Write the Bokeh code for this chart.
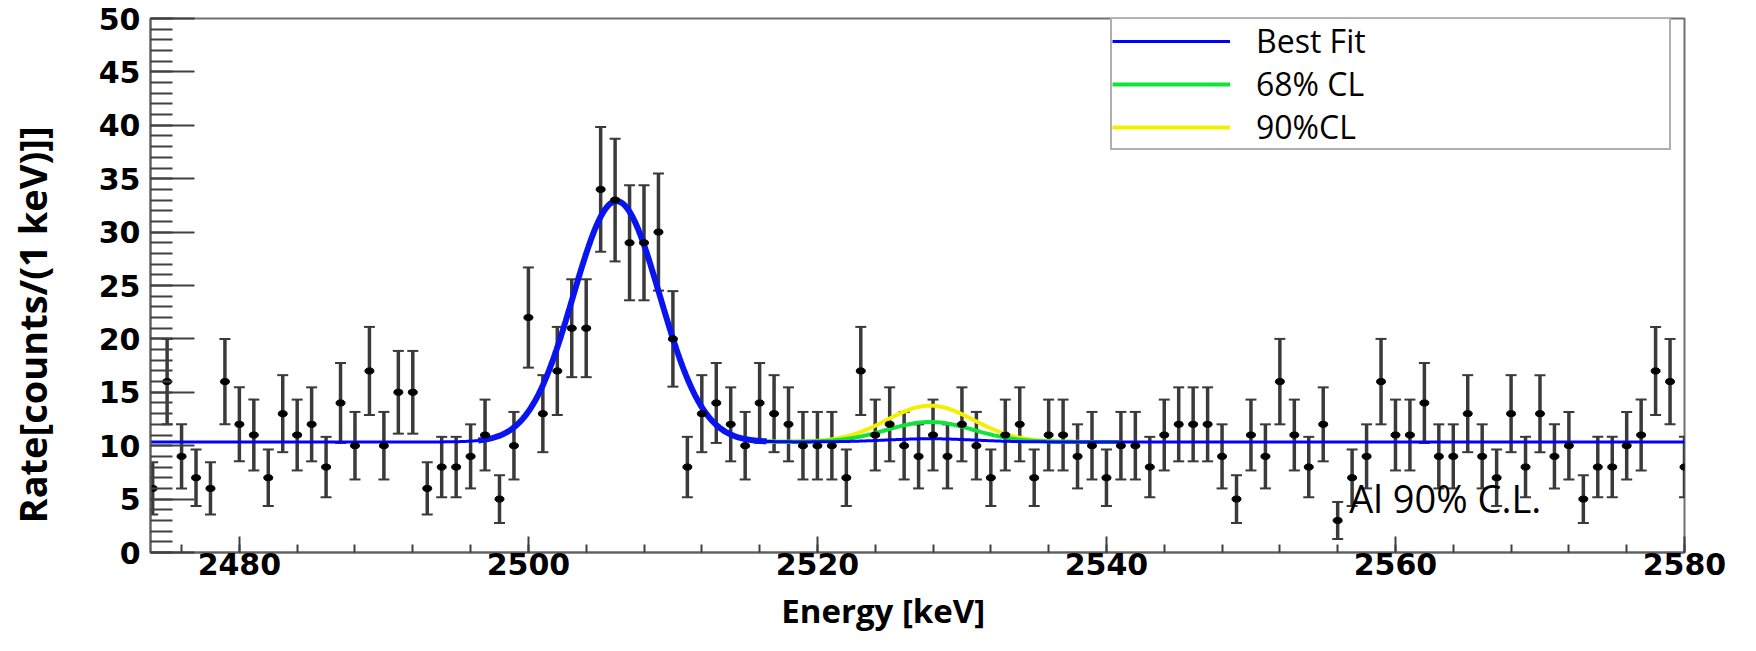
import numpy as np
from bokeh.plotting import figure
from bokeh.models import (Range1d, SingleIntervalTicker, ColumnDataSource, Whisker,
                          TeeHead, Legend, LegendItem, Label)
from bokeh.embed import file_html
from bokeh.resources import INLINE

# ---------------- data ----------------
energy = list(range(2474, 2581))
counts = [6, 16, 9, 7, 6, 16, 12, 11, 7, 13,
          11, 12, 8, 14, 10, 17, 10, 15, 15, 6,
          8, 8, 9, 11, 5, 10, 22, 13, 17, 21,
          21, 34, 33, 29, 29, 30, 20, 8, 13, 14,
          12, 10, 14, 13, 12, 10, 10, 10, 7, 17,
          11, 12, 10, 9, 11, 9, 12, 10, 7, 11,
          12, 7, 11, 11, 9, 10, 7, 10, 10, 8,
          11, 12, 12, 12, 9, 5, 11, 9, 16, 11,
          8, 12, 3, 7, 9, 16, 11, 11, 14, 9,
          9, 13, 9, 7, 13, 8, 13, 9, 10, 5,
          8, 8, 10, 11, 17, 16, 8]

# fit model parameters (constant background + gaussian lines)
bkg_level = 10.35
peak_center = 2506.1
peak_amp = 22.55
line_sigma = 3.0
sig_center = 2527.8
sig_amp_best = 0.3
sig_amp_68 = 1.87
sig_amp_90 = 3.4

x_lo, x_hi = 2473.85, 2580.0
y_lo, y_hi = 0, 50

legend_labels = ["Best Fit", "68% CL", "90%CL"]
annotation_text = "Al 90% C.L."
annotation_x, annotation_y = 2556.8, 5.1


def gauss(x, c, a, s):
    return a * np.exp(-0.5 * ((x - c) / s) ** 2)


# ---------------- figure ----------------
p = figure(width=1740, height=635, x_range=Range1d(x_lo, x_hi), y_range=Range1d(y_lo, y_hi),
           output_backend="svg", toolbar_location=None,
           min_border_left=150, min_border_right=56, min_border_top=18, min_border_bottom=80)
p.background_fill_color = "white"
p.border_fill_color = "white"
p.grid.visible = False
p.outline_line_color = "#707070"
p.outline_line_width = 2

p.xaxis.ticker = SingleIntervalTicker(interval=20, num_minor_ticks=5)
p.yaxis.ticker = SingleIntervalTicker(interval=5, num_minor_ticks=5)

for ax in (p.xaxis, p.yaxis):
    ax.axis_line_color = "#606060"
    ax.axis_line_width = 2
    ax.major_tick_line_color = "#404040"
    ax.minor_tick_line_color = "#404040"
    ax.major_tick_line_width = 2
    ax.minor_tick_line_width = 2
    ax.major_tick_out = 0
    ax.minor_tick_out = 0
    ax.major_label_text_font = "DejaVu Sans"
    ax.major_label_text_font_style = "bold"
    ax.major_label_text_font_size = "30px"
    ax.major_label_text_color = "black"
    ax.axis_label_text_font = "Open Sans"
    ax.axis_label_text_font_style = "bold"
    ax.axis_label_text_color = "black"

p.xaxis.major_tick_in = 16
p.xaxis.minor_tick_in = 8
p.yaxis.major_tick_in = 44
p.yaxis.minor_tick_in = 22
p.xaxis.major_label_standoff = 0
p.yaxis.major_label_standoff = 10

p.xaxis.axis_label = "Energy [keV]" + "\u00a0" * 8
p.xaxis.axis_label_text_font_size = "33px"
p.xaxis.axis_label_standoff = 10
p.yaxis.axis_label = "Rate[counts/(1 keV)]]" + "\u00a0" * 8
p.yaxis.axis_label_text_font_size = "38px"
p.yaxis.axis_label_standoff = 38

# ---------------- data points with Poisson errors ----------------
cnt = np.array(counts, dtype=float)
err = np.sqrt(cnt)
src = ColumnDataSource(dict(x=energy, y=counts, upper=(cnt + err).tolist(), lower=(cnt - err).tolist()))

bar_col = "#3a3a3a"
whisk = Whisker(base="x", upper="upper", lower="lower", source=src,
                line_color=bar_col, line_width=3.5,
                upper_head=TeeHead(size=11, line_color=bar_col, line_width=2),
                lower_head=TeeHead(size=11, line_color=bar_col, line_width=2))
p.add_layout(whisk)

# ---------------- fit curves ----------------
xf = np.linspace(x_lo, x_hi, 2000)
best = bkg_level + gauss(xf, peak_center, peak_amp, line_sigma) + gauss(xf, sig_center, sig_amp_best, line_sigma)
xs = np.linspace(2515, 2541, 400)
cl68 = bkg_level + gauss(xs, peak_center, peak_amp, line_sigma) + gauss(xs, sig_center, sig_amp_68, line_sigma)
cl90 = bkg_level + gauss(xs, peak_center, peak_amp, line_sigma) + gauss(xs, sig_center, sig_amp_90, line_sigma)

r90 = p.line(xs, cl90, line_color="#f2f000", line_width=4)
r68 = p.line(xs, cl68, line_color="#11e33a", line_width=4)
rbest = p.line(xf, best, line_color="#0000ff", line_width=3)
mask = (xf > 2496.5) & (xf < 2516.5)
p.line(xf[mask], best[mask], line_color="#0a14f0", line_width=6)

p.ellipse(x="x", y="y", width=9, height=6, width_units="screen", height_units="screen",
          fill_color="black", line_color="black", source=src)

# ---------------- legend ----------------
legend = Legend(items=[LegendItem(label=legend_labels[0], renderers=[rbest]),
                       LegendItem(label=legend_labels[1], renderers=[r68]),
                       LegendItem(label=legend_labels[2], renderers=[r90])],
                location=(960, 402), margin=0, padding=0, spacing=0,
                glyph_width=118, glyph_height=36, label_height=36,
                label_standoff=26, label_width=413,
                label_text_font="Open Sans", label_text_font_size="32px",
                label_text_color="black",
                border_line_color="#606060", border_line_width=2,
                background_fill_color="white", background_fill_alpha=1.0)
p.add_layout(legend)

p.add_layout(Label(x=annotation_x, y=annotation_y, text=annotation_text,
                   text_font="Open Sans", text_font_size="38px",
                   text_color="black", text_baseline="alphabetic"))

open("out.html", "w").write(file_html(p, INLINE))
